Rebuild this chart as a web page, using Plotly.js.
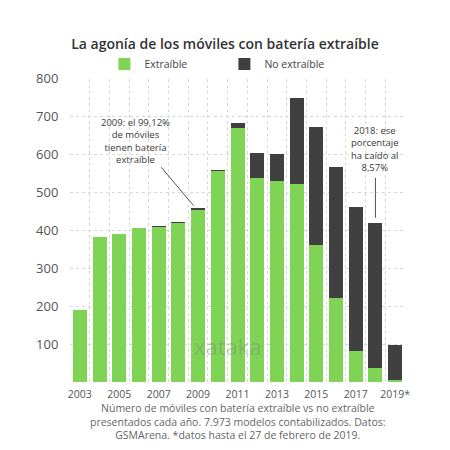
<!DOCTYPE html>
<html>
<head>
<meta charset="utf-8">
<script src="https://cdn.plot.ly/plotly-3.0.1.min.js"></script>
<style>body{margin:0;padding:0;background:#fff;}#chart{width:450px;height:450px;}</style>
</head>
<body>
<div id="chart"></div>
<script>
const years = [2003,2004,2005,2006,2007,2008,2009,2010,2011,2012,2013,2014,2015,2016,2017,2018,2019];
const extraible =   [191,381,391,405,409,419,454,555,670,537,529,521,361,221,83,36,5];
const noExtraible = [0,0,0,0,3,2,4,4,13,67,73,228,312,346,378,383,92];
const xTickVals = [2003,2005,2007,2009,2011,2013,2015,2017,2019];
const xTickText = ['2003','2005','2007','2009','2011','2013','2015','2017','2019*'];
const yTickVals = [100,200,300,400,500,600,700,800];
const captionLines = [
  'Número de móviles con batería extraíble vs no extraíble',
  'presentados cada año. 7.973 modelos contabilizados. Datos:',
  'GSMArena. *datos hasta el 27 de febrero de 2019.'
];

const FONT = 'Open Sans, sans-serif';
const data = [
  {type:'bar', name:'Extraíble', x:years, y:extraible, marker:{color:'#80d455'}, hoverinfo:'skip'},
  {type:'bar', name:'No extraíble', x:years, y:noExtraible, marker:{color:'#404040'}, hoverinfo:'skip'}
];
const layout = {
  width:450, height:450,
  paper_bgcolor:'#fff', plot_bgcolor:'#fff',
  margin:{l:70, r:45, t:72, b:68},
  barmode:'stack', bargap:0.29,
  font:{family:FONT, color:'#555'},
  title:{text:'La agonía de los móviles con batería extraíble', x:0.5, xanchor:'center', y:0.902, yanchor:'middle',
         font:{family:FONT, size:14, color:'#333', weight:600}},
  showlegend:true,
  legend:{orientation:'h', xref:'container', yref:'container', x:0.232, xanchor:'left', y:1-64/450, yanchor:'middle',
          font:{family:FONT, size:10.5, color:'#444'}, entrywidth:75, traceorder:'normal', itemclick:false},
  xaxis:{range:[2002.5,2019.5], tickmode:'array', tickvals:xTickVals, ticktext:xTickText, showgrid:false, zeroline:false,
         tickfont:{family:FONT, size:10.5, color:'#555'}, ticks:'outside', ticklen:2, tickcolor:'rgba(0,0,0,0)',
         minor:{tickmode:'linear', tick0:2002.5, dtick:1, showgrid:true, gridcolor:'#d8d8d8', griddash:'dot', gridwidth:1}},
  yaxis:{range:[0,800], tickmode:'array', tickvals:yTickVals, showgrid:true, gridcolor:'#d8d8d8', griddash:'dot', zeroline:false,
         tickfont:{family:FONT, size:13, color:'#555'}, ticks:'outside', ticklen:8, tickcolor:'rgba(0,0,0,0)'},
  shapes:[
    {type:'line', xref:'x', yref:'y', x0:2007.13, y0:566, x1:2008.77, y1:465, line:{color:'#555', width:1}},
    {type:'line', xref:'x', yref:'y', x0:2018, y0:538, x1:2018, y1:433, line:{color:'#555', width:1}}
  ],
  annotations:[
    {xref:'x', yref:'y', x:2005.81, y:636, showarrow:false, align:'center',
     text:'2009: el 99,12%<br>de móviles<br>tienen batería<br>extraíble', font:{family:FONT, size:9.5, color:'#3a3a3a'}},
    {xref:'x', yref:'y', x:2018, y:613, showarrow:false, align:'center',
     text:'2018: ese<br>porcentaje<br>ha caído al<br>8,57%', font:{family:FONT, size:9.5, color:'#3a3a3a'}},
    {xref:'x', yref:'y', x:2010.5, y:95, showarrow:false,
     text:'xataka', font:{family:FONT, size:22, color:'rgba(120,120,120,0.35)'}},
    {xref:'paper', yref:'paper', x:0.5, xanchor:'center', y:(382-422.5)/310, yanchor:'middle', showarrow:false, align:'center',
     text:captionLines.join('<br>'), font:{family:FONT, size:10.5, color:'#666'}}
  ]
};
Plotly.newPlot('chart', data, layout, {staticPlot:true, displayModeBar:false});
</script>
</body>
</html>
